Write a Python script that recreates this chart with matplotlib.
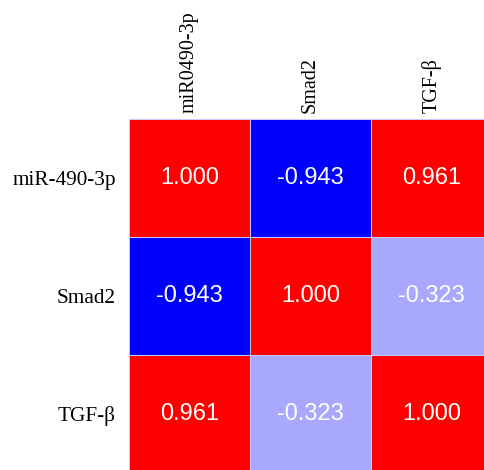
import numpy as np
import matplotlib.pyplot as plt

# Correlation matrix values
row_labels = ['miR-490-3p', 'Smad2', 'TGF-β']
col_labels = ['miR0490-3p', 'Smad2', 'TGF-β']
corr = np.array([
    [1.000, -0.943, 0.961],
    [-0.943, 1.000, -0.323],
    [0.961, -0.323, 1.000],
])

W, H = 484, 470
fig = plt.figure(figsize=(W / 100, H / 100), dpi=100)
# heatmap runs off the right and bottom edges as in the reference
left, top = 129, 119
cw, ch = 121, 118
ax = fig.add_axes([left / W, 1 - (top + 3 * ch) / H, 3 * cw / W, 3 * ch / H])

ax.pcolormesh(corr, cmap='bwr', vmin=-0.94, vmax=0.94,
              edgecolors='#c8c8ff', linewidth=0.4)
ax.set_xlim(0, 3)
ax.set_ylim(3, 0)

for i in range(3):
    for j in range(3):
        ax.text(j + 0.5, i + 0.5, f'{corr[i, j]:.3f}', ha='center', va='center',
                color='white', fontsize=17, family='Liberation Sans')

ax.xaxis.tick_top()
ax.set_xticks(np.arange(3) + 0.5)
ax.set_xticklabels(col_labels, rotation=90, family='Liberation Serif', fontsize=14.5)
ax.set_yticks(np.arange(3) + 0.5)
ax.set_yticklabels(row_labels, family='Liberation Serif', fontsize=15.3)
ax.tick_params(length=0)
ax.tick_params(axis='y', pad=9.5)
ax.tick_params(axis='x', pad=4.3)
for s in ax.spines.values():
    s.set_visible(False)

fig.savefig('out.png', dpi=100)
